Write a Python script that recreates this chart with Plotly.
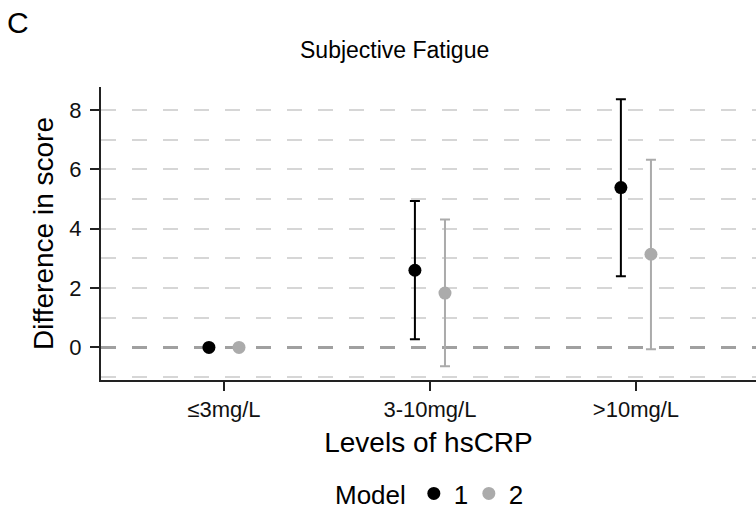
import plotly.graph_objects as go

# ---- data ----
categories = ["≤3mg/L", "3-10mg/L", ">10mg/L"]
model_names = ["1", "2"]
m1_est = [0.0, 2.60, 5.39]
m1_low = [0.0, 0.27, 2.40]
m1_high = [0.0, 4.94, 8.37]
m2_est = [0.0, 1.83, 3.14]
m2_low = [0.0, -0.64, -0.06]
m2_high = [0.0, 4.31, 6.33]
y_ticks = [0, 2, 4, 6, 8]
ref_y = 0

# ---- styles ----
FONT = "Liberation Sans, Arial, sans-serif"
colors = ["#000000", "#ababab"]
Y_RANGE = [-1.10, 8.78]
AX = "#222222"

fig = go.Figure()
series = [(m1_est, m1_low, m1_high), (m2_est, m2_low, m2_high)]
for name, (est, lo, hi), col in zip(model_names, series, colors):
    fig.add_trace(go.Scatter(
        x=categories, y=est, name=name, mode="markers",
        offsetgroup=name,
        marker=dict(color=col, size=13),
        error_y=dict(type="data", symmetric=False,
                     array=[h - e for h, e in zip(hi, est)],
                     arrayminus=[e - l for e, l in zip(est, lo)],
                     color=col, thickness=2, width=5),
    ))

# empty trace that just activates the overlaid grid axis
fig.add_trace(go.Scatter(x=[], y=[], yaxis="y2", showlegend=False,
                         hoverinfo="skip"))

# dashed reference line at zero (under the data)
fig.add_hline(y=ref_y, line=dict(color="#a0a0a0", width=3, dash="15px,16px"),
              layer="below")

grid_vals = [v for v in range(-2, 10)
             if Y_RANGE[0] <= v <= Y_RANGE[1] and v != ref_y]

fig.update_layout(
    width=756, height=517,
    margin=dict(l=101, r=0, t=87, b=137),
    paper_bgcolor="white", plot_bgcolor="white",
    scattermode="group", scattergap=0.708,
    font=dict(family=FONT, color="#000000"),
    title=dict(text="Subjective Fatigue", font=dict(size=23, color="#000000"),
               x=0.522, xanchor="center", xref="container",
               y=1 - 50 / 517, yanchor="middle", yref="container"),
    showlegend=True,
    legend=dict(orientation="h", x=333 / 756, xanchor="left", xref="container",
                y=-0.012, yanchor="bottom", yref="container",
                title=dict(text="Model", side="left", font=dict(size=26)),
                font=dict(size=26), bgcolor="rgba(0,0,0,0)", entrywidth=10),
    annotations=[dict(text="C", xref="paper", yref="paper",
                      x=-96 / 655, y=1 + (87 - 22) / 293,
                      xanchor="left", yanchor="middle", showarrow=False,
                      font=dict(size=30, family=FONT))],
    xaxis=dict(
        type="category", range=[-0.597, 2.583],
        showline=True, linecolor=AX, linewidth=2,
        ticks="outside", ticklen=9, tickwidth=2, tickcolor=AX,
        tickfont=dict(size=22, color="#111111"),
        showgrid=False, zeroline=False,
        title=dict(text="Levels of hsCRP", font=dict(size=28), standoff=11),
    ),
    yaxis=dict(
        range=Y_RANGE, tickvals=y_ticks,
        showline=True, linecolor=AX, linewidth=2,
        ticks="outside", ticklen=9, tickwidth=2, tickcolor=AX,
        tickfont=dict(size=22, color="#111111"), ticklabelstandoff=4,
        showgrid=False, zeroline=False,
        title=dict(text="Difference in score", font=dict(size=28), standoff=8),
    ),
    yaxis2=dict(overlaying="y", anchor="x", side="left", range=Y_RANGE,
                tickvals=grid_vals, showticklabels=False, ticks="",
                showline=False, showgrid=True, gridcolor="#d6d6d6",
                gridwidth=1.5, griddash="15px,16px", zeroline=False),
)

fig.write_html("out.html")
